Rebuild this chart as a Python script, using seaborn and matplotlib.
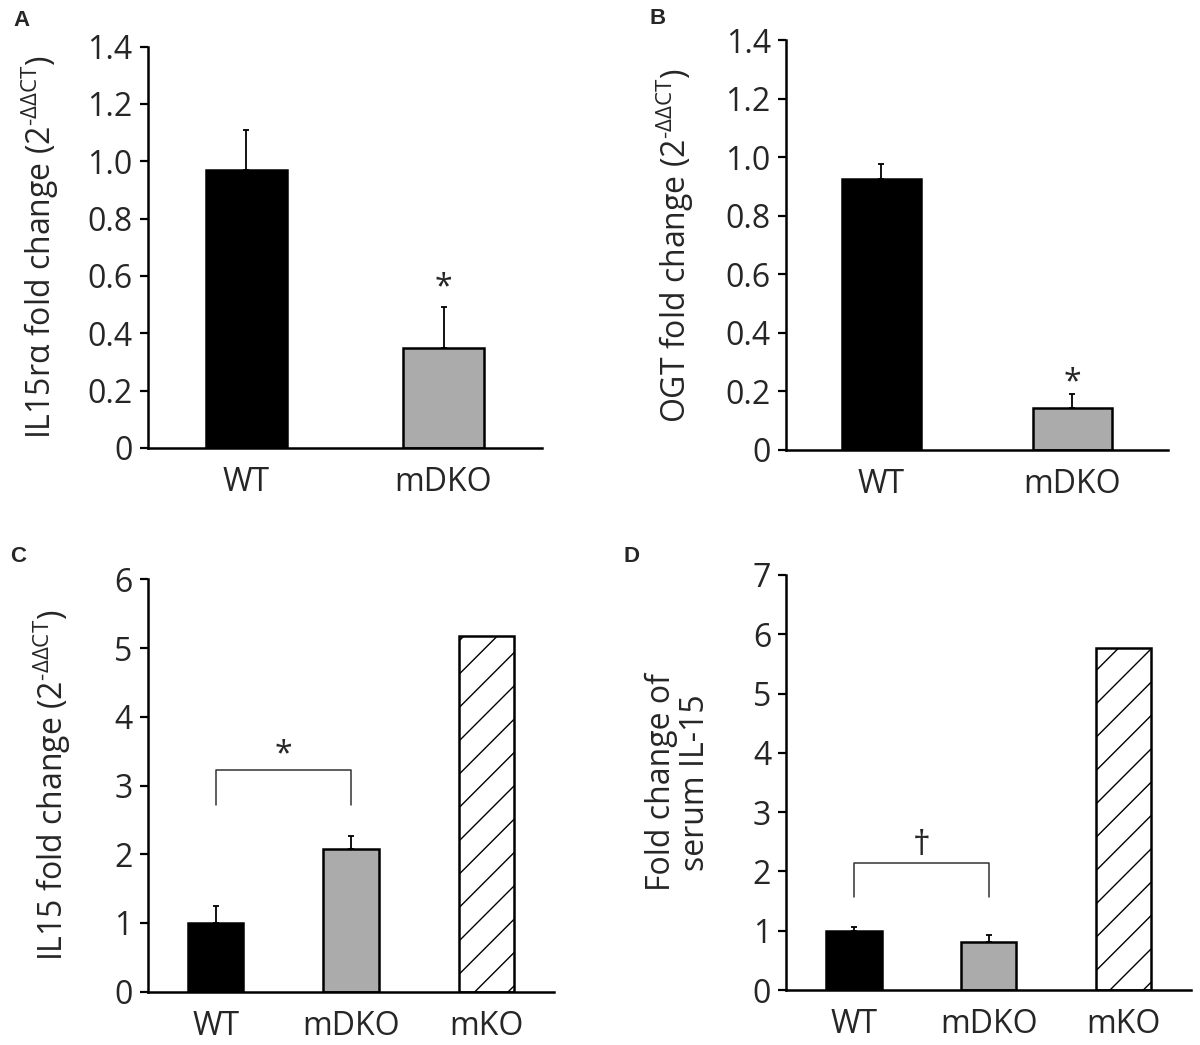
import numpy as np
import matplotlib
matplotlib.use('Agg')
import matplotlib.pyplot as plt
import seaborn as sns

# data
cats_ab = ['WT', 'mDKO']
cats_cd = ['WT', 'mDKO', 'mKO']

il15ra_mean = [0.97, 0.35]
il15ra_err = [0.14, 0.14]

ogt_mean = [0.925, 0.142]
ogt_err = [0.05, 0.05]

il15_mean = [1.0, 2.07, 5.18]
il15_err = [0.24, 0.20, 0.0]

serum_mean = [1.0, 0.81, 5.77]
serum_err = [0.07, 0.12, 0.0]

yticks_ab = [0, 0.2, 0.4, 0.6, 0.8, 1.0, 1.2, 1.4]
yticklabels_ab = ['0', '0.2', '0.4', '0.6', '0.8', '1.0', '1.2', '1.4']

bar_colors = {'WT': '#000000', 'mDKO': '#ababab', 'mKO': '#ffffff'}

sns.set_style('white')
plt.rcParams['font.family'] = ['Open Sans', 'DejaVu Sans']
plt.rcParams['mathtext.fontset'] = 'custom'
plt.rcParams['mathtext.rm'] = 'Open Sans'
plt.rcParams['hatch.linewidth'] = 1.0

FS = 23
SUP = r'(2$^{\mathregular{‐ΔΔCT}}$)'


def bar_panel(ax, cats, means, errs, ymax, yticks, yticklabels, ylabel, label_x):
    sns.barplot(x=cats, y=means, hue=cats, palette=[bar_colors[c] for c in cats],
                legend=False, width=0.41, edgecolor='black', linewidth=1.8,
                saturation=1, ax=ax)
    for bar, c in zip(ax.patches, cats):
        if c == 'mKO':
            bar.set_hatch('/')
    x = np.arange(len(cats))
    e = np.array(errs)
    m = np.array(means)
    keep = e > 0
    ax.errorbar(x[keep], m[keep], yerr=[np.zeros(keep.sum()), e[keep]], fmt='none',
                ecolor='black', elinewidth=1.3, capsize=2.5, capthick=1.3, zorder=1)

    ax.set_xlim(-0.5, len(cats) - 0.5)
    ax.set_ylim(0, ymax)
    ax.set_yticks(yticks)
    ax.set_yticklabels(yticklabels)
    ax.set_xticks(np.arange(-0.5, len(cats)), minor=True)
    ax.tick_params(axis='x', which='major', length=0, pad=13, labelsize=FS)
    ax.tick_params(axis='x', which='minor', length=9, width=1.6, direction='out', color='black')
    ax.tick_params(axis='y', length=6, width=1.6, direction='out', color='black',
                   labelsize=FS, pad=5, left=True)
    for s in ['top', 'right']:
        ax.spines[s].set_visible(False)
    for s in ['left', 'bottom']:
        ax.spines[s].set_color('black')
        ax.spines[s].set_linewidth(1.8)
    ax.set_xlabel('')
    ax.set_ylabel(ylabel, fontsize=FS, linespacing=1.05)
    ax.yaxis.set_label_coords(label_x, 0.5)


fig = plt.figure(figsize=(12, 10.45), dpi=100)

ax_a = fig.add_axes([0.1233, 0.5713, 0.3284, 0.3842])
ax_b = fig.add_axes([0.655, 0.5694, 0.3183, 0.3923])
ax_c = fig.add_axes([0.1233, 0.051, 0.3384, 0.3946])
ax_d = fig.add_axes([0.6554, 0.0526, 0.3371, 0.3972])

bar_panel(ax_a, cats_ab, il15ra_mean, il15ra_err, 1.4, yticks_ab, yticklabels_ab,
          r'IL15r$\mathregular{α}$ fold change ' + SUP, -0.22)
bar_panel(ax_b, cats_ab, ogt_mean, ogt_err, 1.4, yticks_ab, yticklabels_ab,
          'OGT fold change ' + SUP, -0.236)
bar_panel(ax_c, cats_cd, il15_mean, il15_err, 6, list(range(7)),
          [str(v) for v in range(7)],
          'IL15 fold change ' + SUP, -0.185)
bar_panel(ax_d, cats_cd, serum_mean, serum_err, 7, list(range(8)),
          [str(v) for v in range(8)],
          'Fold change of\nserum IL-15', -0.184)

# significance marks
ax_a.text(1, 0.53, '*', ha='center', va='baseline', fontsize=FS)
ax_b.text(1, 0.20, '*', ha='center', va='baseline', fontsize=FS)

ax_c.plot([0, 0, 1, 1], [2.72, 3.23, 3.23, 2.72], color='#333333', lw=1.1)
ax_c.text(0.5, 3.33, '*', ha='center', va='baseline', fontsize=FS)

ax_d.plot([0, 0, 1, 1], [1.57, 2.15, 2.15, 1.57], color='#333333', lw=1.1)
ax_d.text(0.5, 2.28, '\u2020', ha='center', va='baseline', fontsize=FS + 2)

# panel letters
for letter, px, py in [('A', 21, 20), ('B', 658, 18), ('C', 18, 556), ('D', 632, 556)]:
    fig.text(px / 1200, 1 - py / 1045, letter, fontsize=16, fontweight='bold',
             family='Liberation Sans', ha='center', va='center')

fig.savefig('out.png', dpi=100)
